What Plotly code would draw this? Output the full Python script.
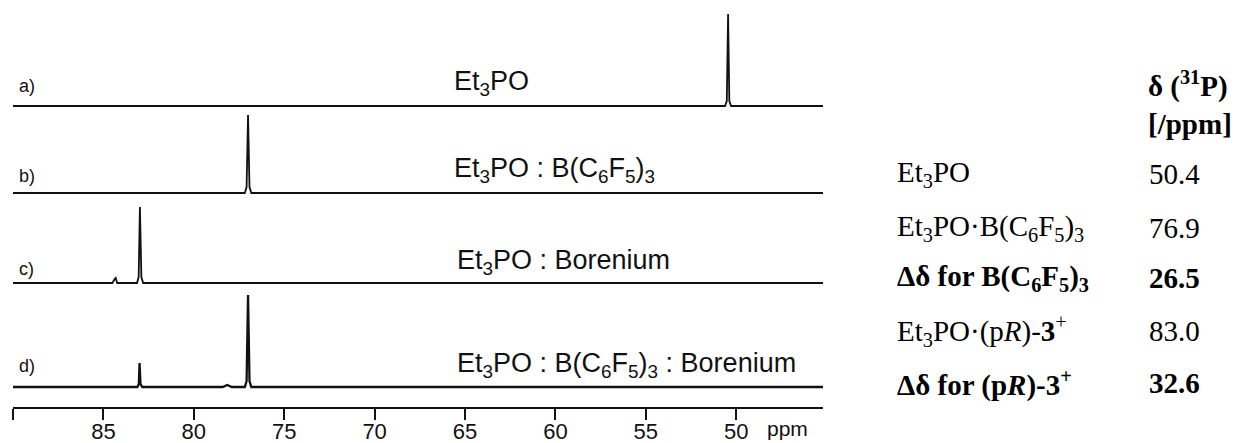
import plotly.graph_objects as go

# ---------------- data ----------------
# 31P NMR spectra (ppm, relative intensity)
spec_a_ppm = [90.0, 50.62, 50.52, 50.45, 50.38, 50.28, 45.2]
spec_a_int = [0, 0, 5, 92, 5, 0, 0]

spec_b_ppm = [90.0, 77.18, 77.08, 77.0, 76.92, 76.82, 45.2]
spec_b_int = [0, 0, 6, 78, 6, 0, 0]

spec_c_ppm = [90.0, 84.5, 84.38, 84.32, 84.24, 83.14, 83.05, 82.98, 82.9, 82.8, 45.2]
spec_c_int = [0, 0, 4, 5, 0, 0, 6, 76, 6, 0, 0]

spec_d_ppm = [90.0, 83.12, 83.04, 83.0, 82.95, 82.85, 78.4, 78.15, 77.9, 77.18, 77.08,
              77.0, 76.92, 76.82, 45.2]
spec_d_int = [0, 0, 3, 24, 3, 0, 0, 2, 0, 0, 6, 92, 6, 0, 0]

spec_offsets = [301, 214, 124, 20]
spec_letters = ["a)", "b)", "c)", "d)"]
spec_names = [
    "Et<sub>3</sub>PO",
    "Et<sub>3</sub>PO : B(C<sub>6</sub>F<sub>5</sub>)<sub>3</sub>",
    "Et<sub>3</sub>PO : Borenium",
    "Et<sub>3</sub>PO : B(C<sub>6</sub>F<sub>5</sub>)<sub>3</sub> : Borenium",
]

tick_vals = [90, 85, 80, 75, 70, 65, 60, 55, 50]
tick_text = ["", "85", "80", "75", "70", "65", "60", "55", "50"]
x_range = [90.0, 45.2]

table_header = ["<b>δ (<sup>31</sup>P)</b>", "<b>[/ppm]</b>"]
table_labels = [
    "Et<sub>3</sub>PO",
    "Et<sub>3</sub>PO·B(C<sub>6</sub>F<sub>5</sub>)<sub>3</sub>",
    "<b>Δδ for B(C<sub>6</sub>F<sub>5</sub>)<sub>3</sub></b>",
    "Et<sub>3</sub>PO·(p<i>R</i>)-<b>3</b><sup>+</sup>",
    "<b>Δδ for (p<i>R</i>)-3<sup>+</sup></b>",
]
table_values = ["50.4", "76.9", "26.5", "83.0", "32.6"]
table_bold = [False, False, True, False, True]

# ---------------- layout helpers ----------------
W, H = 1243, 443
L, R_EDGE, AX_Y = 13, 823, 407


def px(x):
    return (x - L) / (R_EDGE - L)


def py(y):
    return (AX_Y - y) / AX_Y


fig = go.Figure()
spectra = [(spec_a_ppm, spec_a_int), (spec_b_ppm, spec_b_int),
           (spec_c_ppm, spec_c_int), (spec_d_ppm, spec_d_int)]
widths = [1.8, 1.8, 1.8, 2.3]
for (xs, ys), off, lw in zip(spectra, spec_offsets, widths):
    fig.add_trace(go.Scatter(
        x=xs, y=[v + off for v in ys], mode="lines",
        line=dict(color="#111111", width=lw), hoverinfo="skip", showlegend=False))

sans = "Liberation Sans, Arial, sans-serif"
serif = "Liberation Serif, Times New Roman, serif"

ann = []
letter_y = [86, 176, 269, 366]
name_y = [83, 170, 262, 365]
name_x = [452, 452, 455, 455]
for i in range(4):
    ann.append(dict(text=spec_letters[i], x=px(17), y=py(letter_y[i]), xref="paper", yref="paper",
                    xanchor="left", yanchor="middle", showarrow=False,
                    font=dict(family=sans, size=18, color="#111")))
    ann.append(dict(text=spec_names[i], x=px(name_x[i]), y=py(name_y[i]), xref="paper", yref="paper",
                    xanchor="left", yanchor="middle", showarrow=False,
                    font=dict(family=sans, size=27, color="#111")))

ann.append(dict(text="ppm", x=px(765), y=py(429), xref="paper", yref="paper",
                xanchor="left", yanchor="middle", showarrow=False,
                font=dict(family=sans, size=21, color="#111")))

header_y = [84, 124]
for t, yy in zip(table_header, header_y):
    ann.append(dict(text=t, x=px(1146), y=py(yy), xref="paper", yref="paper",
                    xanchor="left", yanchor="middle", showarrow=False,
                    font=dict(family=serif, size=29, color="#000")))

row_y = [174, 228, 278, 331, 383]
for lab, val, b, yy in zip(table_labels, table_values, table_bold, row_y):
    ann.append(dict(text=lab, x=px(895), y=py(yy), xref="paper", yref="paper",
                    xanchor="left", yanchor="middle", showarrow=False,
                    font=dict(family=serif, size=29, color="#000")))
    ann.append(dict(text=f"<b>{val}</b>" if b else val, x=px(1147), y=py(yy), xref="paper", yref="paper",
                    xanchor="left", yanchor="middle", showarrow=False,
                    font=dict(family=serif, size=29, color="#000")))

fig.update_layout(
    width=W, height=H,
    margin=dict(l=L, r=W - R_EDGE, t=0, b=H - AX_Y, pad=0, autoexpand=False),
    paper_bgcolor="white", plot_bgcolor="white",
    annotations=ann,
    xaxis=dict(range=x_range, tickvals=tick_vals, ticktext=tick_text,
               showline=True, linecolor="#111", linewidth=1.5,
               ticks="outside", ticklen=11, tickwidth=1.5, tickcolor="#111",
               showgrid=False, zeroline=False, automargin=False,
               tickfont=dict(family=sans, size=22, color="#111"), ticklabelstandoff=-7),
    yaxis=dict(range=[0, AX_Y], visible=False, fixedrange=True, automargin=False),
)

fig.write_html("out.html")
